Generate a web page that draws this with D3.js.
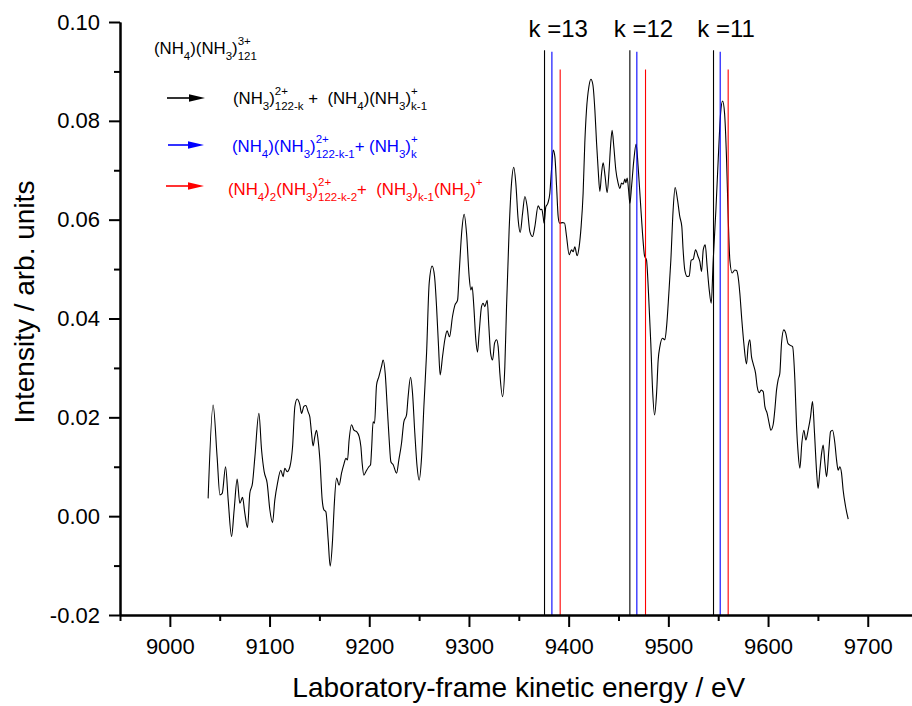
<!DOCTYPE html>
<html>
<head>
<meta charset="utf-8">
<script src="https://cdn.jsdelivr.net/npm/d3@7"></script>
<style>
  body { margin: 0; background: #fff; }
  svg { display: block; }
  text { font-family: Arial, "Liberation Sans", sans-serif; }
</style>
</head>
<body>
<div class="chart"></div>
<script>
// spectrum
var energy = [
  9038.4, 9043.4, 9047.4, 9050.2, 9052.5, 9055.9, 9058.5, 9061.9, 9064.5, 9067.5,
  9070.2, 9072.9, 9075.2, 9077.9, 9080.2, 9082.9, 9085.3, 9089.3, 9092.0, 9094.6,
  9097.6, 9100.3, 9103.0, 9105.3, 9108.0, 9111.3, 9113.6, 9115.3, 9117.7, 9120.4,
  9123.1, 9125.4, 9127.7, 9130.4, 9132.1, 9134.4, 9136.4, 9138.7, 9140.4, 9142.1,
  9143.7, 9145.4, 9147.1, 9148.7, 9150.5, 9152.8, 9154.5, 9156.5, 9158.8, 9160.8,
  9163.2, 9164.8, 9167.2, 9169.8, 9172.2, 9174.8, 9176.5, 9178.2, 9179.8, 9182.2,
  9184.6, 9187.3, 9189.9, 9191.6, 9192.9, 9194.6, 9196.6, 9199.6, 9201.3, 9202.3,
  9203.9, 9205.3, 9207.3, 9209.6, 9212.3, 9213.9, 9216.0, 9218.0, 9220.0, 9221.7,
  9224.0, 9227.4, 9229.7, 9232.4, 9234.7, 9237.4, 9239.0, 9241.4, 9243.4, 9245.7,
  9248.0, 9250.0, 9252.5, 9254.8, 9257.5, 9260.1, 9263.1, 9265.5, 9267.5, 9269.5,
  9271.1, 9273.5, 9275.8, 9278.1, 9280.5, 9283.5, 9285.9, 9288.6, 9290.2, 9292.9,
  9295.2, 9297.6, 9300.2, 9301.9, 9303.2, 9304.9, 9306.9, 9308.6, 9310.2, 9312.6,
  9314.2, 9315.9, 9318.3, 9320.0, 9321.7, 9323.7, 9325.7, 9327.7, 9329.3, 9331.0,
  9333.7, 9336.0, 9337.7, 9340.3, 9342.7, 9345.0, 9347.0, 9349.4, 9351.4, 9353.8,
  9356.1, 9358.4, 9361.1, 9363.8, 9366.1, 9369.4, 9371.8, 9373.1, 9374.4, 9375.4,
  9377.1, 9379.1, 9381.1, 9382.8, 9384.5, 9386.2, 9387.9, 9389.5, 9390.9, 9393.9,
  9395.9, 9397.9, 9400.5, 9402.9, 9404.5, 9406.2, 9408.5, 9410.5, 9412.5, 9414.5,
  9416.2, 9417.9, 9420.3, 9422.3, 9424.3, 9426.3, 9428.0, 9429.6, 9431.3, 9433.0,
  9434.6, 9436.6, 9438.6, 9440.6, 9442.0, 9443.6, 9445.3, 9447.3, 9449.6, 9451.4,
  9453.0, 9454.7, 9456.4, 9457.4, 9458.7, 9460.1, 9461.4, 9463.1, 9465.4, 9467.7,
  9469.7, 9472.1, 9474.1, 9476.1, 9478.1, 9480.1, 9482.4, 9484.2, 9486.2, 9488.2,
  9489.8, 9491.5, 9494.2, 9496.5, 9498.2, 9500.5, 9502.5, 9504.8, 9506.8, 9509.2,
  9511.5, 9513.5, 9514.8, 9516.5, 9518.9, 9520.9, 9522.9, 9524.9, 9527.3, 9529.9,
  9531.6, 9533.3, 9535.0, 9537.0, 9538.9, 9541.0, 9543.0, 9545.0, 9547.7, 9550.0,
  9552.4, 9554.4, 9556.4, 9558.4, 9560.0, 9561.7, 9564.0, 9566.7, 9568.4, 9570.4,
  9571.7, 9573.7, 9575.7, 9578.4, 9580.0, 9581.7, 9583.4, 9585.0, 9587.5, 9589.1,
  9591.1, 9593.1, 9595.1, 9596.8, 9599.1, 9601.1, 9602.8, 9605.1, 9606.8, 9608.5,
  9610.1, 9611.8, 9613.5, 9615.8, 9617.8, 9619.9, 9621.9, 9624.6, 9626.9, 9628.6,
  9630.2, 9631.9, 9633.9, 9635.9, 9637.9, 9640.2, 9642.6, 9644.6, 9646.6, 9648.6,
  9650.2, 9652.0, 9653.7, 9655.3, 9657.0, 9658.7, 9661.0, 9662.7, 9664.7, 9667.0,
  9668.7, 9670.3, 9672.0, 9673.7, 9675.3, 9677.8, 9680.4
];

var intensity = [
  0.0036, 0.0225, 0.0120, 0.0043, 0.0046, 0.0100, 0.0033, -0.0041, 0.0013, 0.0075,
  0.0026, 0.0038, 0.0006, -0.0023, 0.0046, 0.0067, 0.0120, 0.0208, 0.0134, 0.0090,
  0.0067, 0.0013, -0.0013, 0.0033, 0.0067, 0.0093, 0.0080, 0.0097, 0.0090, 0.0100,
  0.0141, 0.0222, 0.0237, 0.0225, 0.0208, 0.0222, 0.0224, 0.0211, 0.0201, 0.0168,
  0.0142, 0.0161, 0.0174, 0.0154, 0.0114, 0.0033, 0.0013, 0.0009, -0.0048, -0.0101,
  -0.0048, 0.0019, 0.0077, 0.0063, 0.0087, 0.0107, 0.0117, 0.0114, 0.0154, 0.0185,
  0.0174, 0.0171, 0.0161, 0.0141, 0.0107, 0.0083, 0.0090, 0.0100, 0.0104, 0.0134,
  0.0191, 0.0188, 0.0265, 0.0282, 0.0303, 0.0316, 0.0289, 0.0222, 0.0154, 0.0110,
  0.0104, 0.0087, 0.0114, 0.0148, 0.0191, 0.0205, 0.0242, 0.0281, 0.0249, 0.0168,
  0.0100, 0.0073, 0.0120, 0.0222, 0.0330, 0.0471, 0.0506, 0.0485, 0.0424, 0.0343,
  0.0286, 0.0323, 0.0357, 0.0375, 0.0363, 0.0404, 0.0427, 0.0437, 0.0492, 0.0579,
  0.0611, 0.0572, 0.0485, 0.0458, 0.0464, 0.0424, 0.0357, 0.0332, 0.0370, 0.0424,
  0.0431, 0.0424, 0.0437, 0.0383, 0.0330, 0.0316, 0.0350, 0.0357, 0.0343, 0.0289,
  0.0242, 0.0303, 0.0424, 0.0579, 0.0674, 0.0706, 0.0674, 0.0599, 0.0574, 0.0613,
  0.0647, 0.0626, 0.0576, 0.0566, 0.0586, 0.0628, 0.0620, 0.0621, 0.0606, 0.0593,
  0.0626, 0.0633, 0.0653, 0.0701, 0.0741, 0.0727, 0.0667, 0.0606, 0.0593, 0.0594,
  0.0593, 0.0566, 0.0529, 0.0539, 0.0535, 0.0545, 0.0527, 0.0545, 0.0586, 0.0653,
  0.0755, 0.0822, 0.0869, 0.0884, 0.0873, 0.0822, 0.0755, 0.0701, 0.0657, 0.0694,
  0.0715, 0.0687, 0.0655, 0.0701, 0.0748, 0.0781, 0.0748, 0.0701, 0.0674, 0.0663,
  0.0674, 0.0672, 0.0682, 0.0675, 0.0684, 0.0660, 0.0633, 0.0667, 0.0721, 0.0753,
  0.0707, 0.0633, 0.0572, 0.0527, 0.0518, 0.0451, 0.0350, 0.0255, 0.0205, 0.0249,
  0.0316, 0.0343, 0.0360, 0.0357, 0.0383, 0.0451, 0.0518, 0.0620, 0.0665, 0.0640,
  0.0606, 0.0586, 0.0539, 0.0498, 0.0485, 0.0486, 0.0518, 0.0520, 0.0539, 0.0525,
  0.0515, 0.0495, 0.0539, 0.0549, 0.0505, 0.0458, 0.0431, 0.0518, 0.0620, 0.0721,
  0.0815, 0.0840, 0.0815, 0.0721, 0.0606, 0.0518, 0.0492, 0.0498, 0.0497, 0.0478,
  0.0451, 0.0397, 0.0350, 0.0308, 0.0343, 0.0357, 0.0323, 0.0309, 0.0289, 0.0262,
  0.0250, 0.0255, 0.0252, 0.0222, 0.0208, 0.0188, 0.0174, 0.0185, 0.0215, 0.0255,
  0.0276, 0.0289, 0.0350, 0.0377, 0.0370, 0.0350, 0.0346, 0.0343, 0.0276, 0.0181,
  0.0127, 0.0097, 0.0148, 0.0174, 0.0154, 0.0174, 0.0201, 0.0232, 0.0168, 0.0093,
  0.0056, 0.0093, 0.0127, 0.0144, 0.0107, 0.0080, 0.0134, 0.0171, 0.0174, 0.0148,
  0.0114, 0.0093, 0.0100, 0.0087, 0.0053, 0.0019, -0.0006
];

// fragmentation channel markers (eV) for k = 13, 12, 11
var kValues = [13, 12, 11];
var blackPos = [9375.8, 9461.4, 9545.3];
var bluePos = [9383.2, 9468.4, 9552.0];
var redPos = [9391.5, 9477.1, 9560.0];
var blackTop = 0.0943, blueTop = 0.0940, redTop = 0.0904;

var xTicks = [9000, 9100, 9200, 9300, 9400, 9500, 9600, 9700];
var xMinor = [8950, 9050, 9150, 9250, 9350, 9450, 9550, 9650, 9750];
var yTicks = [-0.02, 0.00, 0.02, 0.04, 0.06, 0.08, 0.10];
var yMinor = [-0.01, 0.01, 0.03, 0.05, 0.07, 0.09];

// legend formulas
var headFormula = [{t: "(NH", sub: "4"}, {t: ")(NH", sub: "3"}, {t: ")", sup: "3+", sub: "121"}];
var blackFormula = [{t: "(NH", sub: "3"}, {t: ")", sup: "2+", sub: "122-k"}, {t: " +  (NH", sub: "4"},
  {t: ")(NH", sub: "3"}, {t: ")", sup: "+", sub: "k-1"}];
var blueFormula = [{t: "(NH", sub: "4"}, {t: ")(NH", sub: "3"}, {t: ")", sup: "2+", sub: "122-k-1"},
  {t: "+ (NH", sub: "3"}, {t: ")", sup: "+", sub: "k"}];
var redFormula = [{t: "(NH", sub: "4"}, {t: ")", sub: "2"}, {t: "(NH", sub: "3"}, {t: ")", sup: "2+", sub: "122-k-2"},
  {t: "+  (NH", sub: "3"}, {t: ")", sub: "k-1"}, {t: "(NH", sub: "2"}, {t: ")", sup: "+"}];

var svgWidth = 912;
var svgHeight = 706;

var margin = {top: 22, left: 120};
var width = 797.6;
var height = 593;

var svg = d3.select(".chart")
  .append("svg")
  .attr("width", svgWidth)
  .attr("height", svgHeight);

var chartGroup = svg.append("g").attr("transform", `translate(${margin.left}, ${margin.top})`);

var xScale = d3.scaleLinear().domain([8950, 9750]).range([0, width]);
var yScale = d3.scaleLinear().domain([-0.02, 0.10]).range([height, 0]);

// spectrum
var points = energy.map((e, i) => [e, intensity[i]]);
var line = d3.line()
  .x(d => xScale(d[0]))
  .y(d => yScale(d[1]))
  .curve(d3.curveMonotoneX);

chartGroup.append("path")
  .datum(points)
  .attr("d", line)
  .attr("fill", "none")
  .attr("stroke", "#000")
  .attr("stroke-width", 1.1);

// vertical marker lines
function markers(pos, top, colour) {
  chartGroup.selectAll(null)
    .data(pos)
    .enter()
    .append("line")
    .attr("x1", d => xScale(d))
    .attr("x2", d => xScale(d))
    .attr("y1", yScale(top))
    .attr("y2", yScale(-0.02))
    .attr("stroke", colour)
    .attr("stroke-width", 1.1);
}
markers(blackPos, blackTop, "#000");
markers(bluePos, blueTop, "#0000ff");
markers(redPos, redTop, "#ff0000");

chartGroup.selectAll(".klabel")
  .data(kValues)
  .enter()
  .append("text")
  .attr("class", "klabel")
  .attr("x", (d, i) => xScale(redPos[i]) - 2)
  .attr("y", 15)
  .attr("text-anchor", "middle")
  .style("font-size", "24px")
  .text(d => "k =" + d);

// axes
var bottomAxis = d3.axisBottom(xScale).tickValues(xTicks).tickSize(12).tickSizeOuter(0).tickFormat(d3.format("d"));
var bottomMinor = d3.axisBottom(xScale).tickValues(xMinor).tickSize(6).tickSizeOuter(0).tickFormat("");
var leftAxis = d3.axisLeft(yScale).tickValues(yTicks).tickSize(11).tickSizeOuter(0).tickFormat(d => d.toFixed(2));
var leftMinor = d3.axisLeft(yScale).tickValues(yMinor).tickSize(6).tickSizeOuter(0).tickFormat("");

var xg = chartGroup.append("g").attr("transform", `translate(0, ${height})`).call(bottomAxis);
chartGroup.append("g").attr("transform", `translate(0, ${height})`).call(bottomMinor);
var yg = chartGroup.append("g").call(leftAxis);
chartGroup.append("g").call(leftMinor);

chartGroup.selectAll(".domain, .tick line").attr("stroke", "#000").attr("stroke-width", 2);
xg.selectAll("text").attr("y", 39).attr("dy", null).style("font-size", "22px").attr("fill", "#000");
yg.selectAll("text").attr("x", -20).style("font-size", "22px").attr("fill", "#000");
chartGroup.selectAll(".tick text").style("font-family", "Arial, 'Liberation Sans', sans-serif");

// axis titles
svg.append("text")
  .attr("x", margin.left + width / 2)
  .attr("y", 697)
  .attr("text-anchor", "middle")
  .style("font-size", "28px")
  .text("Laboratory-frame kinetic energy / eV");

svg.append("text")
  .attr("transform", "translate(34, 302) rotate(-90)")
  .attr("text-anchor", "middle")
  .style("font-size", "28px")
  .text("Intensity / arb. units");

// legend
function drawFormula(x, y, parts, colour) {
  var g = svg.append("g").attr("fill", colour);
  var cx = x;
  parts.forEach(function(p) {
    var t = g.append("text").attr("x", cx).attr("y", y)
      .style("font-size", "16.8px").style("white-space", "pre").text(p.t);
    cx += t.node().getComputedTextLength();
    var w = 0;
    if (p.sup) {
      var s = g.append("text").attr("x", cx).attr("y", y - 9.5).style("font-size", "11.5px").text(p.sup);
      w = Math.max(w, s.node().getComputedTextLength());
    }
    if (p.sub) {
      var b = g.append("text").attr("x", cx).attr("y", y + 5.5).style("font-size", "11.5px").text(p.sub);
      w = Math.max(w, b.node().getComputedTextLength());
    }
    cx += w;
  });
}

function drawArrow(x1, x2, y, colour) {
  svg.append("line")
    .attr("x1", x1).attr("x2", x2 - 10)
    .attr("y1", y).attr("y2", y)
    .attr("stroke", colour).attr("stroke-width", 1.6);
  svg.append("path")
    .attr("d", `M${x2 - 16},${y - 3.8}L${x2},${y}L${x2 - 16},${y + 3.8}Z`)
    .attr("fill", colour);
}

drawFormula(154, 54, headFormula, "#000");
drawArrow(167, 205, 98, "#000");
drawFormula(233, 104, blackFormula, "#000");
drawArrow(168, 204, 145, "#0000ff");
drawFormula(232, 152, blueFormula, "#0000ff");
drawArrow(166, 204, 186, "#ff0000");
drawFormula(228, 195, redFormula, "#ff0000");
</script>
</body>
</html>
